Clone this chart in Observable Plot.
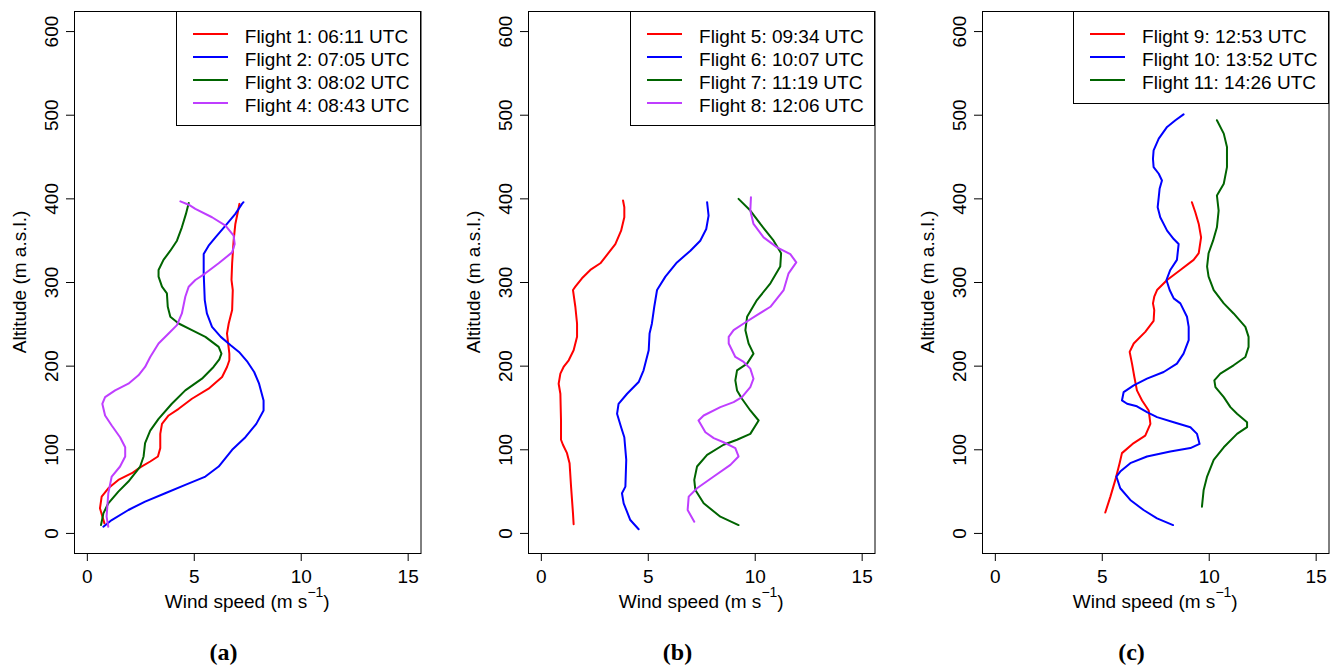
<!DOCTYPE html>
<html><head><meta charset="utf-8">
<script src="https://cdn.jsdelivr.net/npm/d3@7"></script>
<script src="https://cdn.jsdelivr.net/npm/@observablehq/plot@0.6"></script>
<style>
body{margin:0;background:#fff;}
#root{position:relative;width:1337px;height:666px;overflow:hidden;font-family:"Liberation Sans",Arial,sans-serif;background:#fff;}
.panel{position:absolute;top:0;height:666px;}
.legend{position:absolute;box-sizing:border-box;border:1px solid #000;background:#fff;}
.row{position:absolute;height:23px;line-height:23px;font-size:19px;white-space:nowrap;color:#000;}
.swatch{position:absolute;height:2px;}
</style></head><body><div id="root"></div>
<script>
// ---- axis ticks ----
const xTicks = [0, 5, 10, 15];
const yTicks = [0, 100, 200, 300, 400, 500, 600];

// ---- data: [wind speed (m/s), altitude (m a.s.l.)] ----
const flight1 = [[0.80,12],[0.59,30],[0.67,44],[0.98,54],[1.45,64],[2.08,72],[2.47,79],[2.94,86],[3.30,92],[3.41,102],[3.41,119],[3.49,131],[3.80,141],[4.27,149],[4.89,161],[5.67,173],[6.30,187],[6.53,199],[6.64,207],[6.64,215],[6.53,239],[6.61,251],[6.77,267],[6.80,291],[6.74,303],[6.77,323],[6.84,350],[6.92,370],[7.05,386],[7.11,394]];
const flight2 = [[0.75,8],[1.14,16],[1.92,28],[2.70,38],[3.64,48],[4.58,58],[5.52,68],[6.14,80],[6.77,100],[7.39,115],[7.90,131],[8.24,147],[8.24,159],[8.03,179],[7.80,193],[7.49,205],[7.09,217],[6.70,225],[6.24,235],[5.83,247],[5.59,263],[5.49,279],[5.44,311],[5.44,334],[5.67,344],[5.99,354],[6.46,368],[6.92,382],[7.23,394],[7.30,396]];
const flight3 = [[0.64,10],[0.75,24],[0.98,36],[1.45,50],[1.92,62],[2.47,80],[2.63,92],[2.70,108],[2.94,123],[3.33,137],[3.95,155],[4.58,171],[5.36,185],[5.90,199],[6.17,208],[6.27,215],[6.14,223],[5.52,235],[4.89,243],[4.27,251],[3.88,259],[3.76,271],[3.72,287],[3.49,295],[3.33,307],[3.33,315],[3.56,327],[3.88,338],[4.19,350],[4.42,366],[4.61,382],[4.74,395]];
const flight4 = [[0.98,8],[0.90,20],[0.98,48],[1.14,68],[1.53,80],[1.77,92],[1.77,103],[1.53,115],[1.14,129],[0.83,141],[0.70,155],[0.83,163],[1.30,171],[1.92,179],[2.39,189],[2.70,199],[2.94,211],[3.33,227],[3.80,239],[4.19,249],[4.42,263],[4.58,283],[4.74,295],[5.05,303],[5.52,311],[6.14,323],[6.77,336],[6.89,346],[6.84,356],[6.46,368],[5.83,378],[5.05,388],[4.74,393],[4.35,397]];
const flight5 = [[1.51,11],[1.48,24],[1.39,56],[1.32,84],[1.20,96],[1.01,106],[0.92,112],[0.92,135],[0.89,167],[0.81,179],[0.89,191],[1.04,199],[1.28,207],[1.51,219],[1.67,235],[1.67,251],[1.59,271],[1.48,291],[1.59,295],[1.90,305],[2.29,315],[2.76,323],[3.07,333],[3.46,346],[3.73,362],[3.88,378],[3.88,390],[3.82,398]];
const flight6 = [[4.55,5],[4.16,16],[3.85,36],[3.77,48],[3.93,56],[3.97,88],[3.88,115],[3.73,127],[3.54,143],[3.61,155],[4.01,167],[4.55,181],[4.78,195],[5.02,219],[5.06,239],[5.17,251],[5.28,271],[5.41,291],[5.80,307],[6.34,324],[6.97,338],[7.43,350],[7.71,364],[7.82,380],[7.75,396]];
const flight7 = [[9.22,10],[8.37,20],[7.59,36],[7.20,52],[7.15,64],[7.28,80],[7.75,94],[8.52,106],[9.15,112],[9.77,119],[10.16,135],[9.77,147],[9.38,161],[9.15,171],[9.07,183],[9.15,195],[9.62,203],[9.92,215],[9.69,227],[9.54,243],[9.62,259],[10.08,279],[10.71,299],[11.17,319],[11.21,335],[10.86,350],[10.24,370],[9.77,386],[9.22,400]];
const flight8 = [[7.15,14],[6.84,28],[6.89,44],[7.28,54],[8.06,68],[8.84,82],[9.22,92],[9.07,102],[8.52,109],[8.06,114],[7.67,121],[7.35,135],[7.59,141],[8.37,151],[8.99,157],[9.38,163],[9.77,175],[9.92,185],[9.77,197],[9.46,205],[9.07,211],[8.76,227],[8.76,235],[8.99,243],[9.46,251],[10.08,261],[10.71,271],[11.33,291],[11.56,311],[11.92,324],[11.64,334],[11.02,342],[10.39,354],[9.92,370],[9.77,386],[9.80,402]];
const flight9 = [[5.14,25],[5.38,44],[5.61,64],[5.81,84],[5.92,96],[6.47,108],[7.01,117],[7.25,131],[7.17,147],[6.86,159],[6.62,171],[6.50,187],[6.39,203],[6.28,217],[6.47,227],[7.01,241],[7.40,254],[7.43,267],[7.37,275],[7.43,283],[7.56,291],[8.03,303],[8.65,315],[9.27,327],[9.51,335],[9.62,354],[9.51,370],[9.35,384],[9.19,396]];
const flight10 = [[8.31,10],[7.56,18],[6.93,28],[6.31,40],[5.84,54],[5.66,68],[5.84,74],[6.31,84],[7.09,92],[8.18,98],[9.12,102],[9.55,107],[9.43,119],[9.12,127],[8.34,133],[7.56,139],[7.09,145],[6.62,152],[6.16,155],[5.92,159],[6.00,169],[6.47,177],[7.09,185],[7.87,193],[8.49,203],[8.80,215],[9.04,231],[9.04,247],[8.96,259],[8.65,275],[8.34,281],[8.15,291],[8.00,303],[8.18,315],[8.49,327],[8.57,346],[8.34,352],[8.03,362],[7.71,378],[7.59,390],[7.64,402],[7.68,412],[7.79,422],[7.64,430],[7.40,438],[7.37,448],[7.40,458],[7.64,472],[8.03,486],[8.42,494],[8.80,501]];
const flight11 = [[9.66,32],[9.74,52],[9.90,68],[10.21,88],[10.68,103],[11.30,119],[11.77,127],[11.77,133],[11.30,143],[10.99,151],[10.68,163],[10.29,175],[10.24,183],[10.52,191],[11.14,201],[11.69,211],[11.84,223],[11.84,235],[11.69,247],[11.14,263],[10.68,275],[10.21,291],[9.97,307],[9.90,319],[9.97,335],[10.18,350],[10.36,366],[10.44,386],[10.36,404],[10.68,418],[10.83,438],[10.83,462],[10.68,478],[10.36,494]];

const panelFlights = [[flight1, flight2, flight3, flight4], [flight5, flight6, flight7, flight8], [flight9, flight10, flight11]];
const panelLabels = [
  ["Flight 1: 06:11 UTC", "Flight 2: 07:05 UTC", "Flight 3: 08:02 UTC", "Flight 4: 08:43 UTC"],
  ["Flight 5: 09:34 UTC", "Flight 6: 10:07 UTC", "Flight 7: 11:19 UTC", "Flight 8: 12:06 UTC"],
  ["Flight 9: 12:53 UTC", "Flight 10: 13:52 UTC", "Flight 11: 14:26 UTC"]
];
const panelTags = ["(a)", "(b)", "(c)"];
const xTitle = "Wind speed (m s";
const yTitle = "Altitude (m a.s.l.)";

// ---- layout / style ----
const colors = ["#FF0000", "#0000FF", "#006400", "#BF3EFF"];
const W = 428, H = 666, ML = 74, MR = 7.5, MT = 11, MB = 113;
const boxW = W - ML - MR;
const offsets = [0, 454.3, 908.3];
const legendW = [245, 245, 256];
const FONT = '"Liberation Sans", Arial, sans-serif';

const root = document.getElementById("root");

panelFlights.forEach((flights, i) => {
  const div = document.createElement("div");
  div.className = "panel";
  div.style.left = offsets[i] + "px";
  div.style.width = W + "px";
  root.appendChild(div);

  const chart = Plot.plot({
    width: W, height: H,
    marginLeft: ML, marginRight: MR, marginTop: MT, marginBottom: MB,
    style: {fontFamily: FONT, fontSize: "19px", color: "#000", background: "transparent", overflow: "visible", maxWidth: "none"},
    x: {domain: [-0.6, 15.6]},
    y: {domain: [-24, 624]},
    marks: [
      Plot.frame({stroke: "#000", strokeWidth: 1}),
      Plot.axisX({ticks: xTicks, tickSize: 8, tickPadding: 8, fontSize: 19, label: null}),
      Plot.axisY({ticks: yTicks, tickSize: 8, tickPadding: 9, tickRotate: -90, fontSize: 19, label: null}),
      ...flights.map((f, j) => Plot.line(f, {x: d => d[0], y: d => d[1], stroke: colors[j], strokeWidth: 2}))
    ]
  });
  div.appendChild(chart);

  const svg = d3.select(chart);
  const midY = MT + (H - MT - MB) / 2;
  svg.append("text")
    .attr("transform", `translate(${ML - 55},${midY}) rotate(-90)`)
    .attr("text-anchor", "middle").attr("dy", "0.35em")
    .attr("font-size", 19).attr("fill", "#000").attr("font-family", FONT)
    .text(yTitle);

  const t = svg.append("text")
    .attr("x", ML + boxW / 2).attr("y", 608.3)
    .attr("text-anchor", "middle").attr("font-size", 19).attr("fill", "#000")
    .attr("font-family", FONT);
  t.append("tspan").text(xTitle);
  t.append("tspan").attr("dy", -11).attr("font-size", 14).text("\u22121");
  t.append("tspan").attr("dy", 11).text(")");

  svg.append("text")
    .attr("x", ML + 149.5).attr("y", 659.5)
    .attr("text-anchor", "middle")
    .attr("font-family", '"Liberation Serif", "Times New Roman", serif')
    .attr("font-weight", "bold").attr("font-size", 24).attr("fill", "#000")
    .text(panelTags[i]);

  // legend
  const labels = panelLabels[i];
  const lg = document.createElement("div");
  lg.className = "legend";
  const lw = legendW[i];
  const lh = labels.length === 4 ? 115 : 93;
  lg.style.left = (ML + boxW - lw) + "px";
  lg.style.top = MT + "px";
  lg.style.width = lw + "px";
  lg.style.height = lh + "px";
  labels.forEach((lab, j) => {
    const sw = document.createElement("div");
    sw.className = "swatch";
    sw.style.left = "16px";
    sw.style.width = "35px";
    sw.style.top = (21.3 + 23 * j) + "px";
    sw.style.background = colors[j];
    lg.appendChild(sw);
    const r = document.createElement("div");
    r.className = "row";
    r.style.left = "68.3px";
    r.style.top = (12.7 + 23 * j) + "px";
    r.textContent = lab;
    lg.appendChild(r);
  });
  div.appendChild(lg);
});
</script>
</body></html>
